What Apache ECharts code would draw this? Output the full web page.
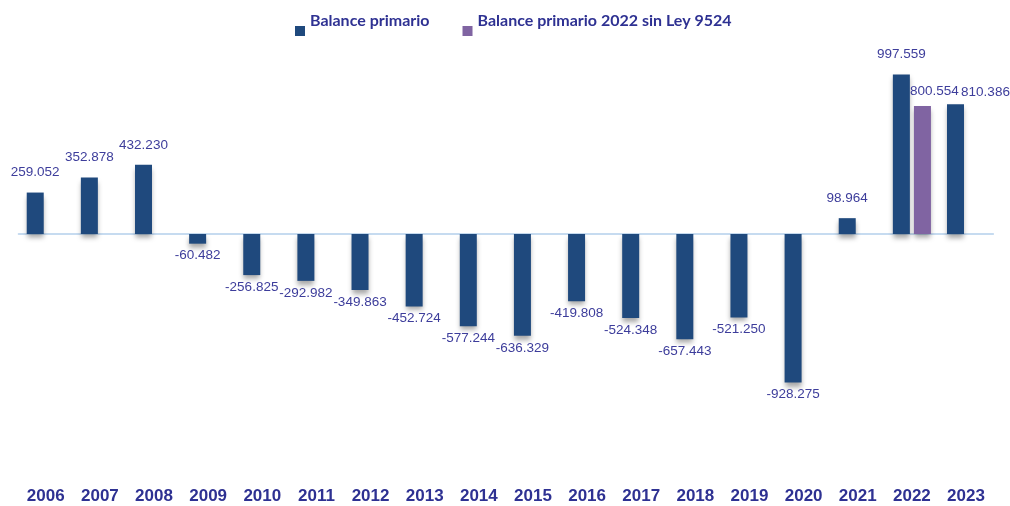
<!DOCTYPE html>
<html>
<head>
<meta charset="utf-8">
<script src="https://cdn.jsdelivr.net/npm/echarts@6/dist/echarts.min.js"></script>
<style>
  html, body { margin: 0; padding: 0; background: #fff; }
  #chart { width: 1010px; height: 506px; }
</style>
</head>
<body>
<div id="chart"></div>
<script>
var years = ['2006', '2007', '2008', '2009', '2010', '2011', '2012', '2013', '2014',
  '2015', '2016', '2017', '2018', '2019', '2020', '2021', '2022', '2023'];
var balance = [259.052, 352.878, 432.230, -60.482, -256.825, -292.982, -349.863, -452.724, -577.244,
  -636.329, -419.808, -524.348, -657.443, -521.250, -928.275, 98.964, 997.559, 810.386];
var sinLey = [null, null, null, null, null, null, null, null, null,
  null, null, null, null, null, null, null, 800.554, null];
var legendNames = ['Balance primario', 'Balance primario 2022 sin Ley 9524'];

var blue = '#1F497D';
var purple = '#8064A2';
var labelColor = '#3D3D9B';
var titleColor = '#2E3192';
var labelFont = '"Liberation Sans", Arial, sans-serif';

var myChart = echarts.init(document.getElementById('chart'));

function fmt(v) {
  return v.toFixed(3);
}

// etiquetas: positivas arriba, negativas abajo (position outside)
var balanceData = balance.map(function (v, i) {
  var item = { value: v, label: { distance: v >= 0 ? 13 : 5 } };
  if (i === balance.length - 1) {
    item.label.offset = [30, 0];
    item.label.distance = 5;
  }
  return item;
});
var sinLeyData = sinLey.map(function (v) {
  if (v === null) return null;
  return { value: v, label: { distance: 8, offset: [12, 0] } };
});

var shadow = {
  shadowColor: 'rgba(0,0,0,0.35)',
  shadowBlur: 5,
  shadowOffsetY: 4
};

// cuadrado del legend un poco mas abajo que el texto
var legendIcon = 'path://M0,0 L10,0 M0,20 L10,20 L10,30 L0,30 Z';

var option = {
  animation: false,
  legend: {
    top: 1,
    left: 290,
    itemWidth: 10,
    itemHeight: 30,
    itemGap: 33,
    icon: legendIcon,
    textStyle: {
      color: titleColor,
      fontFamily: 'Lato',
      fontWeight: 'bold',
      fontSize: 16
    },
    data: legendNames
  },
  grid: {
    left: 18.7,
    right: 16.9,
    top: 74,
    bottom: 32,
    containLabel: false
  },
  xAxis: [{
    type: 'category',
    data: years,
    axisLine: { show: false, onZero: false },
    axisTick: { show: false },
    axisLabel: {
      margin: 14,
      color: titleColor,
      fontFamily: 'Liberation Sans',
      fontWeight: 'bold',
      fontSize: 17
    }
  }, {
    type: 'category',
    data: years,
    position: 'top',
    axisLine: { show: true, onZero: true, lineStyle: { color: '#C6DBF0', width: 2 } },
    axisTick: { show: false },
    axisLabel: { show: false }
  }],
  yAxis: {
    type: 'value',
    min: -1500,
    max: 1000,
    show: false,
    splitLine: { show: false }
  },
  series: [{
    name: legendNames[0],
    type: 'bar',
    barWidth: 17,
    barGap: '24%',
    itemStyle: Object.assign({ color: blue }, shadow),
    label: {
      show: true,
      position: 'outside',
      color: labelColor,
      fontFamily: labelFont,
      fontSize: 13.5,
      formatter: function (p) { return fmt(p.value); }
    },
    data: balanceData
  }, {
    name: legendNames[1],
    type: 'bar',
    barWidth: 17,
    barGap: '24%',
    itemStyle: Object.assign({ color: purple }, shadow),
    label: {
      show: true,
      position: 'outside',
      color: labelColor,
      fontFamily: labelFont,
      fontSize: 13.5,
      formatter: function (p) { return fmt(p.value); }
    },
    data: sinLeyData
  }]
};

myChart.setOption(option);

window.addEventListener('resize', function () {
  myChart.resize();
});
</script>
</body>
</html>
